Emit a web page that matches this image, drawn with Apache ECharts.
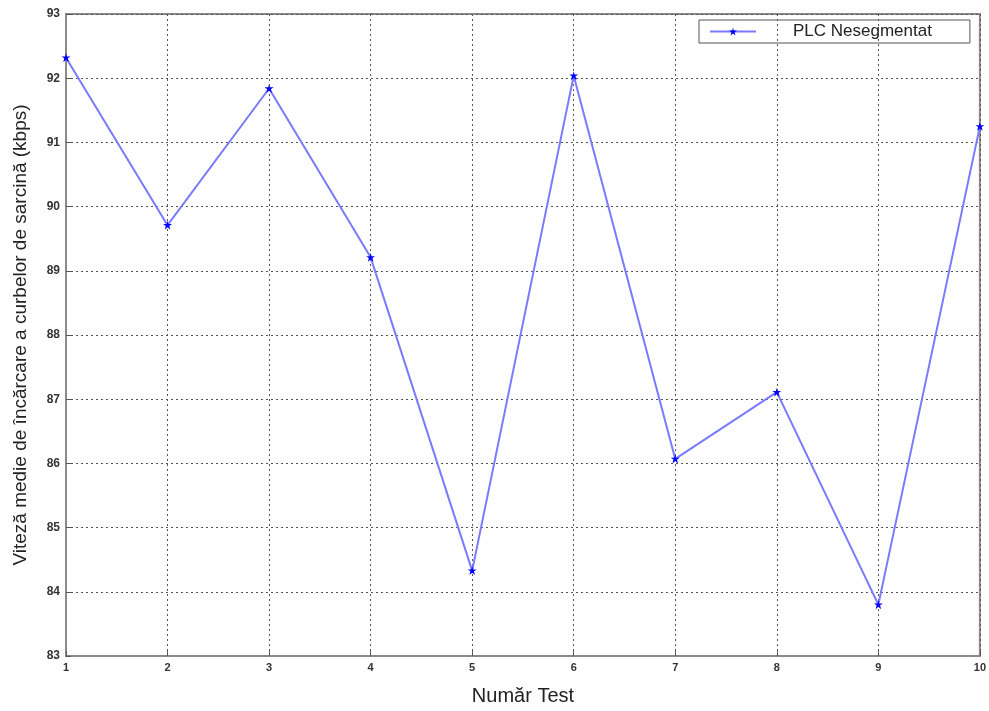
<!DOCTYPE html>
<html>
<head>
<meta charset="utf-8">
<script src="https://cdn.jsdelivr.net/npm/echarts@6/dist/echarts.min.js"></script>
<style>html,body{margin:0;padding:0;background:#fff;}#c{width:989px;height:711px;}</style>
</head>
<body>
<div id="c"></div>
<script>
const testNumbers = [1, 2, 3, 4, 5, 6, 7, 8, 9, 10];
const speedValues = [92.32, 89.71, 91.84, 89.21, 84.33, 92.04, 86.07, 87.11, 83.80, 91.25];
const seriesName = 'PLC Nesegmentat';
const xAxisTitle = 'Număr Test';
const yAxisTitle = 'Viteză medie de încărcare a curbelor de sarcină (kbps)';

const chart = echarts.init(document.getElementById('c'));
const points = testNumbers.map((x, i) => [x, speedValues[i]]);
chart.setOption({
  animation: false,
  backgroundColor: '#fff',
  grid: { left: 66, right: 7, top: 14, bottom: 50, show: true, borderColor: '#8a8a8a', borderWidth: 2 },
  legend: {
    left: 699, top: 20,
    borderColor: '#555', borderWidth: 1,
    padding: [3, 38, 3, 10],
    itemWidth: 46, itemHeight: 10,
    textStyle: { fontSize: 17, color: '#222', fontFamily: 'Liberation Sans, Arial', padding: [0, 0, 0, 32] },
    data: [seriesName]
  },
  xAxis: {
    type: 'value', min: 1, max: 10, interval: 1,
    name: xAxisTitle, nameLocation: 'middle', nameGap: 30,
    nameTextStyle: { fontSize: 20, color: '#222', fontFamily: 'Liberation Sans, Arial' },
    axisLine: { show: true, lineStyle: { color: '#8a8a8a', width: 2 } },
    axisTick: { show: true, inside: true, length: 5, lineStyle: { color: '#555', width: 1 } },
    axisLabel: { fontSize: 11, fontWeight: 'bold', color: '#333', margin: 6, fontFamily: 'Liberation Sans, Arial' },
    splitLine: { show: true, lineStyle: { color: '#555', type: [2, 3], width: 1 } }
  },
  yAxis: {
    type: 'value', min: 83, max: 93, interval: 1,
    name: yAxisTitle, nameLocation: 'middle', nameGap: 36,
    nameTextStyle: { fontSize: 19, color: '#222', fontFamily: 'Liberation Sans Narrow, Arial Narrow, Liberation Sans' },
    axisLine: { show: true, lineStyle: { color: '#8a8a8a', width: 2 } },
    axisTick: { show: true, inside: true, length: 5, lineStyle: { color: '#555', width: 1 } },
    axisLabel: { fontSize: 12, fontWeight: 'bold', color: '#333', margin: 6, fontFamily: 'Liberation Sans, Arial' },
    splitLine: { show: true, lineStyle: { color: '#555', type: [2, 3], width: 1 } }
  },
  series: [{
    name: seriesName,
    type: 'line',
    data: points,
    symbol: 'path://M0,-10 L2,-3 L10,-3 L4,1 L6,9 L0,4 L-6,9 L-4,1 L-10,-3 L-2,-3 Z',
    symbolSize: 9,
    itemStyle: { color: '#0000ff' },
    lineStyle: { color: '#7a7aff', width: 2 }
  }]
});
</script>
</body>
</html>
